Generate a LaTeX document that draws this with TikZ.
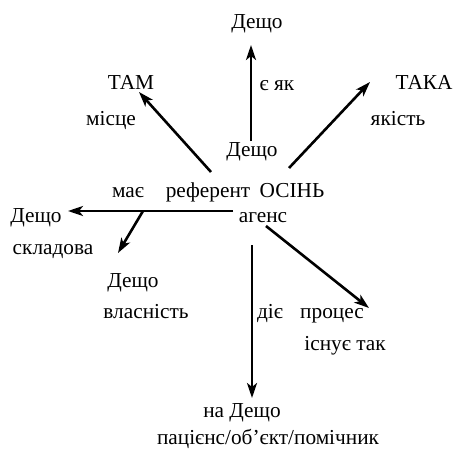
\documentclass[tikz,border=0pt]{standalone}
\usepackage{fontspec}
\setmainfont{Liberation Serif}
\usetikzlibrary{arrows.meta}
\begin{document}
\begin{tikzpicture}[x=1pt,y=-1pt,
  lbl/.style={inner sep=0pt,anchor=base,font=\fontsize{21.3}{24}\selectfont},
  arr/.style={line width=2.6pt,-{Stealth[length=15pt,width=10pt,inset=4pt]}}]
\useasboundingbox (0,0) rectangle (454,449);
% texts (base anchor: x center, baseline y)
\node[lbl] (top) at (257,29) {Дещо};
\node[lbl] (eyak) at (277,91) {є як};
\node[lbl] (tam) at (131,90) {ТАМ};
\node[lbl] (misce) at (111,125) {місце};
\node[lbl] (taka) at (424,90) {ТАКА};
\node[lbl] (yakist) at (398,125) {якість};
\node[lbl] (mid) at (252,157) {Дещо};
\node[lbl] (mae) at (128,197) {має};
\node[lbl] (ref) at (208,197) {референт};
\node[lbl] (osin) at (292,197) {ОСІНЬ};
\node[lbl] (left) at (36,222) {Дещо};
\node[lbl] (agens) at (263,222) {агенс};
\node[lbl] (sklad) at (53,254) {складова};
\node[lbl] (desch2) at (133,287) {Дещо};
\node[lbl] (vlas) at (146,318) {власність};
\node[lbl] (diye) at (270,318) {діє};
\node[lbl] (proc) at (332,318) {процес};
\node[lbl] (isnue) at (345,350) {існує так};
\node[lbl] (na) at (242,417) {на Дещо};
\node[lbl] (pac) at (268,444.5) {пацієнс/об’єкт/помічник};
% connector end points
\coordinate (upS) at (251,141);
\coordinate (upE) at (251,45);
\coordinate (tamS) at (211,172);
\coordinate (tamE) at (139,92);
\coordinate (takaS) at (289,168);
\coordinate (takaE) at (370,82);
\coordinate (leftS) at (233,211);
\coordinate (leftE) at (68,211);
\coordinate (brS) at (143,211);
\coordinate (brE) at (118,253);
\coordinate (procS) at (266,226);
\coordinate (procE) at (369,308);
\coordinate (downS) at (252,245);
\coordinate (downE) at (252,398);
\draw[arr] (upS) -- (upE);
\draw[arr] (tamS) -- (tamE);
\draw[arr] (takaS) -- (takaE);
\draw[arr] (leftS) -- (leftE);
\draw[arr] (brS) -- (brE);
\draw[arr] (procS) -- (procE);
\draw[arr] (downS) -- (downE);
\end{tikzpicture}
\end{document}
